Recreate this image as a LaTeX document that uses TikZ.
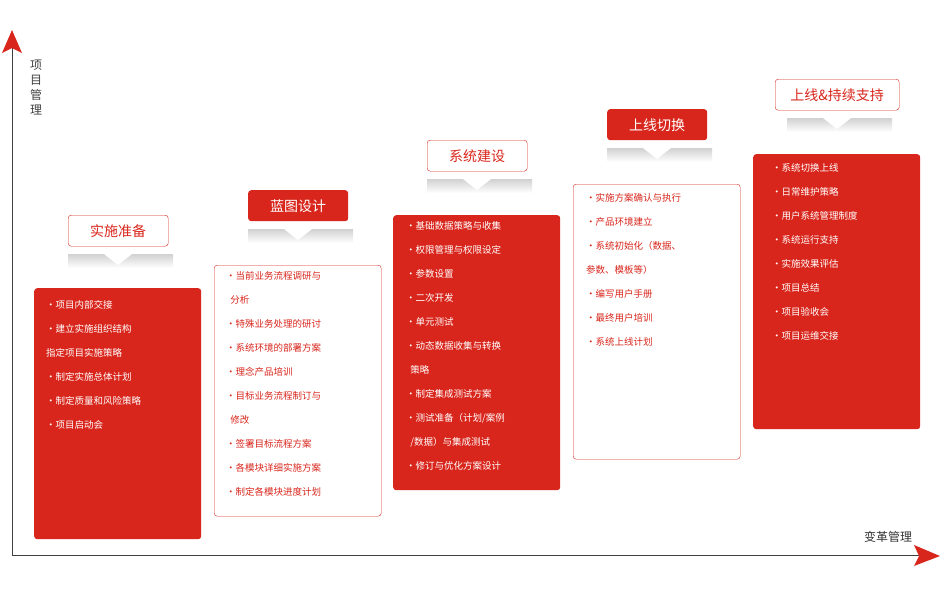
\documentclass[tikz,border=0pt]{standalone}
\usepackage{fontspec}
\setmainfont{Noto Sans CJK SC}
\begin{document}
\begin{tikzpicture}[x=1pt,y=-1pt,
  redc/.style={},
  hdo/.style={draw=myred,fill=white,rounded corners=3pt,minimum width=100pt,minimum height=31pt,anchor=north west,font=\fontsize{14}{16}\selectfont,text=myred,inner sep=0},
  hdf/.style={fill=myred,rounded corners=3pt,minimum width=100pt,minimum height=31pt,anchor=north west,font=\fontsize{14}{16}\selectfont,text=white,inner sep=0},
  boxf/.style={fill=myred,rounded corners=3pt,minimum width=167pt,anchor=north west,inner sep=0},
  boxo/.style={draw=myred,fill=white,rounded corners=3pt,minimum width=167pt,anchor=north west,inner sep=0},
  lst/.style={anchor=north west,align=left,font=\fontsize{9.5}{24}\selectfont,inner sep=0},
]
\definecolor{myred}{HTML}{D9261C}
\useasboundingbox (0,0) rectangle (950,600);
% shadows
\newcommand{\shd}[2]{%
  \shade[top color=black!18,bottom color=white] (#1-50,#2) rectangle (#1+55,#2+14);
  \fill[white] (#1-14,#2) -- (#1+14,#2) -- (#1,#2+11) -- cycle;}
\shd{118}{254}
\shd{298}{229}
\shd{477}{179}
\shd{657}{148}
\shd{837}{118}
% axes
\draw[black!75,line width=0.8pt] (12,555) -- (12,45);
\draw[black!75,line width=0.8pt] (12,555) -- (925,555);
\fill[myred] (12,30) -- (22,53) -- (12,48) -- (2,53) -- cycle;
\fill[myred] (940,556) -- (914,566) -- (919,556) -- (914,545) -- cycle;
\node[align=center,font=\fontsize{12}{15}\selectfont,text=black!75] (ya) at (36,88) {项\\目\\管\\理};
\node[font=\fontsize{12}{14}\selectfont,text=black!80] (xa) at (888,537) {变革管理};
% boxes
\node[boxf,minimum height=251pt] (b1) at (34,288) {};
\node[boxo,minimum height=251pt] (b2) at (214,265) {};
\node[boxf,minimum height=275pt] (b3) at (393,215) {};
\node[boxo,minimum height=275pt] (b4) at (573,184) {};
\node[boxf,minimum height=275pt] (b5) at (753,154) {};
% headers
\node[hdo] (h1) at (68,215) {实施准备};
\node[hdf] (h2) at (248,190) {蓝图设计};
\node[hdo] (h3) at (427,140) {系统建设};
\node[hdf] (h4) at (607,109) {上线切换};
\node[hdo,minimum width=124pt] (h5) at (775,79) {上线\&持续支持};
% lists
\node[lst,text=white] (t1) at (46,300) {·项目内部交接\\·建立实施组织结构\\指定项目实施策略\\·制定实施总体计划\\·制定质量和风险策略\\·项目启动会};
\node[lst,text=myred] (t2) at (226,271) {·当前业务流程调研与\\\ \ 分析\\·特殊业务处理的研讨\\·系统环境的部署方案\\·理念产品培训\\·目标业务流程制订与\\\ \ 修改\\·签署目标流程方案\\·各模块详细实施方案\\·制定各模块进度计划};
\node[lst,text=white] (t3) at (406,221) {·基础数据策略与收集\\·权限管理与权限设定\\·参数设置\\·二次开发\\·单元测试\\·动态数据收集与转换\\\ \ 策略\\·制定集成测试方案\\·测试准备（计划/案例\\\ \ /数据）与集成测试\\·修订与优化方案设计};
\node[lst,text=myred] (t4) at (586,193) {·实施方案确认与执行\\·产品环境建立\\·系统初始化（数据、\\参数、模板等）\\·编写用户手册\\·最终用户培训\\·系统上线计划};
\node[lst,text=white] (t5) at (772,163) {·系统切换上线\\·日常维护策略\\·用户系统管理制度\\·系统运行支持\\·实施效果评估\\·项目总结\\·项目验收会\\·项目运维交接};
\end{tikzpicture}
\end{document}
